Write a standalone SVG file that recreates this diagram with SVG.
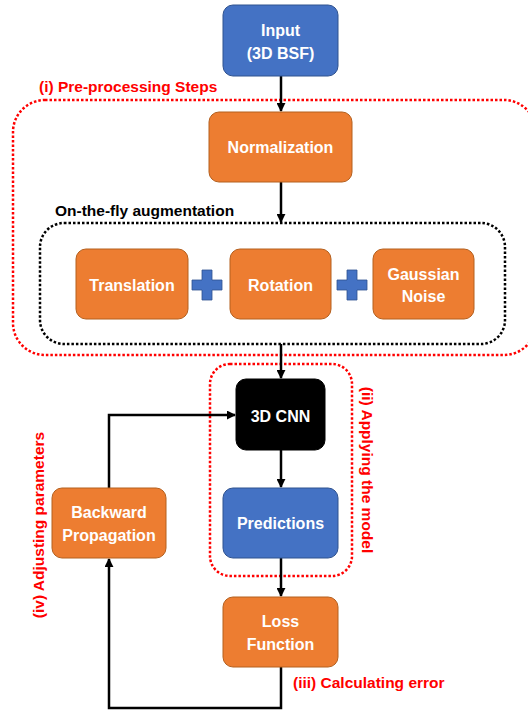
<svg xmlns="http://www.w3.org/2000/svg" width="528" height="711" viewBox="0 0 528 711">
  <style>
    .blue { fill: #4472C4; stroke: #2F528F; stroke-width: 1; }
    .orange { fill: #ED7D31; stroke: #B4601F; stroke-width: 1; }
    .black { fill: #000000; stroke: #000000; stroke-width: 1; }
    .lbl { font-family: "Liberation Sans", Arial, sans-serif; font-weight: bold; font-size: 16px; fill: #ffffff; text-anchor: middle; }
    .red { font-family: "Liberation Sans", Arial, sans-serif; font-weight: bold; font-size: 15.5px; fill: #FF0000; }
    .dark { font-family: "Liberation Sans", Arial, sans-serif; font-weight: bold; font-size: 15.5px; fill: #000000; }
    .zone-red { fill: none; stroke: #FF0000; stroke-width: 2.5; stroke-dasharray: 2.5 2; }
    .zone-black { fill: none; stroke: #000000; stroke-width: 2.5; stroke-dasharray: 2.5 2; }
    .wire { fill: none; stroke: #000000; stroke-width: 2.5; }
    .plus { fill: #4472C4; stroke: #2F528F; stroke-width: 0.8; }
  </style>
  <defs>
    <marker id="arrow" viewBox="0 0 10 10" refX="9" refY="5" markerWidth="3.6" markerHeight="3.6" orient="auto" markerUnits="strokeWidth">
      <path d="M0,0 L10,5 L0,10 Z" fill="#000000"/>
    </marker>
  </defs>

  <!-- stage outlines -->
  <g id="zone-preprocessing">
    <rect class="zone-red" x="13" y="100" width="523" height="255" rx="32"/>
    <text class="red" x="39" y="92">(i) Pre-processing Steps</text>
  </g>
  <g id="zone-augmentation">
    <rect class="zone-black" x="40" y="223" width="465" height="121" rx="24"/>
    <text class="dark" x="55" y="216">On-the-fly augmentation</text>
  </g>
  <g id="zone-model">
    <rect class="zone-red" x="210" y="364" width="142" height="212" rx="20"/>
    <text class="red" transform="translate(362,470) rotate(90)" text-anchor="middle">(ii) Applying the model</text>
  </g>
  <g id="label-error">
    <text class="red" x="293" y="688">(iii) Calculating error</text>
  </g>
  <g id="label-adjust">
    <text class="red" transform="translate(44,525) rotate(-90)" text-anchor="middle">(iv) Adjusting parameters</text>
  </g>

  <!-- connectors -->
  <g id="connectors">
    <line class="wire" x1="281" y1="76" x2="281" y2="111" marker-end="url(#arrow)"/>
    <line class="wire" x1="281" y1="182" x2="281" y2="222" marker-end="url(#arrow)"/>
    <line class="wire" x1="281" y1="344" x2="281" y2="378" marker-end="url(#arrow)"/>
    <line class="wire" x1="281" y1="450" x2="281" y2="487" marker-end="url(#arrow)"/>
    <line class="wire" x1="281" y1="558" x2="281" y2="596" marker-end="url(#arrow)"/>
    <polyline class="wire" points="281,667 281,708 109,708 109,559" marker-end="url(#arrow)"/>
    <polyline class="wire" points="109,488 109,415 235,415" marker-end="url(#arrow)"/>
  </g>

  <!-- nodes -->
  <g id="input">
    <rect class="blue" x="223" y="5" width="115" height="71" rx="10"/>
    <text class="lbl" x="280.5" y="36">Input</text>
    <text class="lbl" x="280.5" y="59">(3D BSF)</text>
  </g>
  <g id="normalization">
    <rect class="orange" x="209" y="112" width="143" height="70" rx="10"/>
    <text class="lbl" x="280.5" y="153">Normalization</text>
  </g>
  <g id="translation">
    <rect class="orange" x="76" y="249" width="112" height="70" rx="10"/>
    <text class="lbl" x="132" y="291">Translation</text>
  </g>
  <g id="plus-1">
    <path class="plus" d="M202,270 H212 V280 H222 V290 H212 V300 H202 V290 H192 V280 H202 Z"/>
  </g>
  <g id="rotation">
    <rect class="orange" x="230" y="249" width="101" height="70" rx="10"/>
    <text class="lbl" x="280.5" y="291">Rotation</text>
  </g>
  <g id="plus-2">
    <path class="plus" d="M347,270 H357 V280 H367 V290 H357 V300 H347 V290 H337 V280 H347 Z"/>
  </g>
  <g id="gaussian-noise">
    <rect class="orange" x="373" y="249" width="101" height="70" rx="10"/>
    <text class="lbl" x="423.5" y="280">Gaussian</text>
    <text class="lbl" x="423.5" y="302">Noise</text>
  </g>
  <g id="cnn">
    <rect class="black" x="236" y="379" width="89" height="71" rx="10"/>
    <text class="lbl" x="280.5" y="422">3D CNN</text>
  </g>
  <g id="predictions">
    <rect class="blue" x="223" y="488" width="115" height="70" rx="10"/>
    <text class="lbl" x="280.5" y="529">Predictions</text>
  </g>
  <g id="loss-function">
    <rect class="orange" x="223" y="597" width="115" height="70" rx="10"/>
    <text class="lbl" x="280.5" y="627">Loss</text>
    <text class="lbl" x="280.5" y="650">Function</text>
  </g>
  <g id="backward-propagation">
    <rect class="orange" x="52" y="488" width="114" height="70" rx="10"/>
    <text class="lbl" x="109" y="518">Backward</text>
    <text class="lbl" x="109" y="541">Propagation</text>
  </g>
</svg>
